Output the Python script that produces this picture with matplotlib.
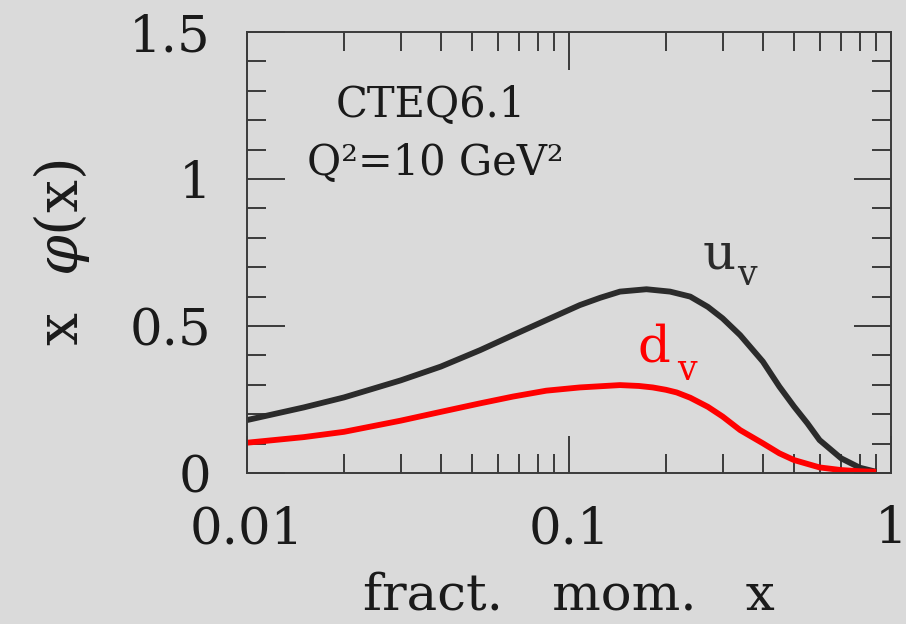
import matplotlib
matplotlib.use("Agg")
import matplotlib.pyplot as plt
from matplotlib.ticker import FixedLocator, LogLocator, NullFormatter

plt.rcParams['font.family'] = ['DejaVu Serif']
plt.rcParams['mathtext.fontset'] = 'dejavuserif'

# momentum fraction x and x*phi(x)
x_u = [0.01, 0.015, 0.02, 0.03, 0.04, 0.053, 0.067, 0.085, 0.108, 0.125, 0.144,
       0.174, 0.206, 0.238, 0.27, 0.30, 0.34, 0.40, 0.45, 0.50, 0.55, 0.60,
       0.70, 0.80, 0.90]
u_v = [0.180, 0.223, 0.257, 0.315, 0.362, 0.418, 0.469, 0.520, 0.571, 0.596, 0.617,
       0.625, 0.617, 0.600, 0.565, 0.526, 0.469, 0.379, 0.294, 0.226, 0.169, 0.112,
       0.050, 0.018, 0.004]

x_d = [0.01, 0.015, 0.02, 0.03, 0.04, 0.053, 0.067, 0.085, 0.108, 0.144, 0.165,
       0.182, 0.20, 0.216, 0.238, 0.27, 0.30, 0.34, 0.40, 0.45, 0.50, 0.60,
       0.70, 0.80, 0.90]
d_v = [0.103, 0.122, 0.140, 0.178, 0.208, 0.237, 0.260, 0.280, 0.291, 0.299, 0.296,
       0.291, 0.283, 0.274, 0.256, 0.225, 0.192, 0.146, 0.101, 0.067, 0.044, 0.019,
       0.010, 0.006, 0.004]

x_ticks = [0.01, 0.1, 1]
x_ticklabels = ['0.01', '0.1', '1']
y_ticks = [0, 0.5, 1, 1.5]
y_ticklabels = ['0', '0.5', '1', '1.5']

bg = '#dadada'
ink = '#1a1a1a'
fig = plt.figure(figsize=(9.06, 6.24), dpi=100, facecolor=bg)
ax = fig.add_axes([247 / 906, 151 / 624, 644 / 906, 441 / 624], facecolor=bg)

ax.plot(x_u, u_v, color='#2b2b2b', lw=4.2, solid_capstyle='butt', solid_joinstyle='round')
ax.plot(x_d, d_v, color='#ff0000', lw=4.2, solid_capstyle='butt', solid_joinstyle='round')

ax.set_xscale('log')
ax.set_xlim(0.01, 1)
ax.set_ylim(0, 1.5)

ax.xaxis.set_major_locator(FixedLocator(x_ticks))
ax.set_xticklabels(x_ticklabels)
ax.xaxis.set_minor_locator(LogLocator(base=10, subs=range(2, 10)))
ax.xaxis.set_minor_formatter(NullFormatter())
ax.yaxis.set_major_locator(FixedLocator(y_ticks))
ax.set_yticklabels(y_ticklabels)
ax.yaxis.set_minor_locator(FixedLocator([i / 10 for i in range(16)]))

ax.tick_params(which='both', direction='in', top=True, right=True,
               color='#3a3a3a', width=1.4)
ax.tick_params(which='major', length=27, labelsize=37, labelcolor=ink)
ax.tick_params(which='minor', length=14)
ax.tick_params(axis='y', which='major', pad=26)
ax.tick_params(axis='x', which='major', pad=23)
for s in ax.spines.values():
    s.set_color('#3a3a3a')
    s.set_linewidth(1.4)

ax.set_xlabel('fract.   mom.   x', fontsize=37, color=ink)
ax.xaxis.set_label_coords(0.5, -0.222)
ax.set_ylabel(r'x  $\varphi$(x)', fontsize=42, color=ink)
ax.yaxis.set_label_coords(-0.24, 0.5)

ax.text(0.286, 0.807, 'CTEQ6.1', transform=ax.transAxes, ha='center',
        va='baseline', fontsize=30, color=ink)
ax.text(0.292, 0.676, 'Q²=10 GeV²', transform=ax.transAxes, ha='center',
        va='baseline', fontsize=30, color=ink)

# curve labels, subscript v drawn as its own smaller text
ax.text(0.2607, 0.697, 'u', fontsize=37, color='#2b2b2b', ha='left', va='baseline')
ax.text(0.3325, 0.639, 'v', fontsize=25, color='#2b2b2b', ha='left', va='baseline')
ax.text(0.1637, 0.378, 'd', fontsize=37, color='#ff0000', ha='left', va='baseline')
ax.text(0.2165, 0.316, 'v', fontsize=25, color='#ff0000', ha='left', va='baseline')

fig.savefig('out.png', dpi=100, facecolor=bg)
